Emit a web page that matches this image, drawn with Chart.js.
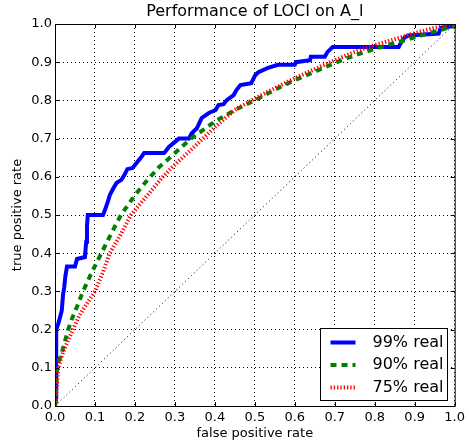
<!DOCTYPE html>
<html><head><meta charset="utf-8">
<script src="https://cdn.jsdelivr.net/npm/chart.js@4"></script>
<style>html,body{margin:0;padding:0;background:#fff}#wrap{width:469px;height:443px}</style>
</head><body><div id="wrap"><canvas id="c" width="469" height="443"></canvas></div>
<script>
const chartTitle = 'Performance of LOCI on A_l';
const xAxisTitle = 'false positive rate';
const yAxisTitle = 'true positive rate';
const seriesLabels = ['99% real', '90% real', '75% real'];

const fpr99 = [0,0.003,0.003,0.008,0.012,0.017,0.02,0.023,0.026,0.03,0.05,0.055,0.075,0.078,0.08,0.082,0.12,0.125,0.132,0.137,0.146,0.154,0.166,0.174,0.181,0.194,0.204,0.216,0.223,0.273,0.285,0.31,0.335,0.342,0.355,0.367,0.385,0.402,0.409,0.422,0.429,0.447,0.454,0.464,0.491,0.501,0.509,0.533,0.558,0.6,0.603,0.638,0.64,0.675,0.682,0.695,0.86,0.865,0.875,0.885,0.96,0.965,1.0];
const tpr99 = [0,0.02,0.2,0.215,0.23,0.25,0.29,0.31,0.34,0.365,0.365,0.385,0.39,0.43,0.47,0.5,0.5,0.513,0.534,0.552,0.57,0.584,0.592,0.605,0.62,0.623,0.636,0.652,0.662,0.662,0.678,0.70,0.70,0.714,0.727,0.754,0.767,0.775,0.788,0.79,0.80,0.814,0.827,0.84,0.845,0.866,0.874,0.885,0.893,0.893,0.90,0.905,0.914,0.914,0.927,0.94,0.94,0.95,0.965,0.97,0.975,0.99,0.995];

const fpr90 = [0,0.003,0.005,0.01,0.017,0.025,0.033,0.043,0.055,0.07,0.092,0.116,0.14,0.165,0.2,0.23,0.26,0.3,0.34,0.37,0.4,0.45,0.5,0.55,0.6,0.65,0.7,0.75,0.8,0.85,0.9,0.95,1.0];
const tpr90 = [0,0.05,0.094,0.12,0.139,0.17,0.2,0.23,0.26,0.3,0.35,0.4,0.45,0.5,0.552,0.59,0.625,0.662,0.7,0.722,0.745,0.775,0.8,0.828,0.853,0.875,0.898,0.918,0.935,0.95,0.965,0.98,0.995];

const fpr75 = [0,0.003,0.005,0.008,0.02,0.03,0.045,0.06,0.075,0.1,0.12,0.137,0.165,0.19,0.23,0.27,0.3,0.35,0.37,0.4,0.45,0.5,0.55,0.6,0.65,0.7,0.75,0.8,0.85,0.9,0.95,1.0];
const tpr75 = [0,0.03,0.06,0.1,0.14,0.165,0.2,0.235,0.26,0.3,0.35,0.4,0.45,0.5,0.55,0.6,0.632,0.68,0.7,0.73,0.775,0.805,0.832,0.858,0.882,0.905,0.927,0.945,0.96,0.976,0.99,1.0];

const diagX = [0, 1];
const diagY = [0, 1];

const axisMin = 0, axisMax = 1, axisStep = 0.1;

const pts = (xs, ys) => xs.map((v, i) => ({x: v, y: ys[i]}));
const FONT = '"DejaVu Sans", sans-serif';

const decor = {
  id: 'decor',
  afterDraw(chart) {
    const {ctx, chartArea: a, scales: {x, y}} = chart;
    ctx.save();
    // frame
    ctx.setLineDash([]);
    ctx.strokeStyle = '#000';
    ctx.lineWidth = 1;
    ctx.strokeRect(a.left + 0.5, a.top + 0.5, a.right - a.left, a.bottom - a.top);
    // inward ticks
    ctx.beginPath();
    x.ticks.forEach(t => {
      const p = Math.round(x.getPixelForValue(t.value)) + 0.5;
      ctx.moveTo(p, a.bottom); ctx.lineTo(p, a.bottom - 4);
      ctx.moveTo(p, a.top); ctx.lineTo(p, a.top + 4);
    });
    y.ticks.forEach(t => {
      const p = Math.round(y.getPixelForValue(t.value)) + 0.5;
      ctx.moveTo(a.left, p); ctx.lineTo(a.left + 4, p);
      ctx.moveTo(a.right, p); ctx.lineTo(a.right - 4, p);
    });
    ctx.stroke();
    // title
    ctx.fillStyle = '#000';
    ctx.font = '16px ' + FONT;
    ctx.textAlign = 'center';
    ctx.textBaseline = 'middle';
    ctx.fillText(chartTitle, (a.left + a.right) / 2, 12);
    // legend
    const w = 127, h = 72;
    const L = Math.round(a.right - 8 - w) + 0.5, T = Math.round(a.bottom - 6 - h) + 0.5;
    ctx.fillStyle = '#fff';
    ctx.fillRect(L, T, w, h);
    ctx.strokeStyle = '#000';
    ctx.lineWidth = 1;
    ctx.strokeRect(L, T, w, h);
    const rows = [14, 36.5, 59];
    chart.data.datasets.slice(0, 3).forEach((ds, i) => {
      const yy = T + rows[i];
      ctx.save();
      ctx.strokeStyle = ds.borderColor;
      ctx.lineWidth = ds.borderWidth;
      ctx.setLineDash(ds.borderDash || []);
      ctx.beginPath();
      ctx.moveTo(L + 10, yy); ctx.lineTo(L + 35, yy);
      ctx.stroke();
      ctx.restore();
      ctx.fillStyle = '#000';
      ctx.font = '16px ' + FONT;
      ctx.textAlign = 'left';
      ctx.textBaseline = 'middle';
      ctx.fillText(ds.label, L + 52, yy);
    });
    ctx.restore();
  }
};

const lineStyle = {pointRadius: 0, tension: 0, fill: false, borderCapStyle: 'butt'};

new Chart(document.getElementById('c'), {
  type: 'line',
  data: {
    datasets: [
      Object.assign({label: seriesLabels[0], data: pts(fpr99, tpr99), borderColor: '#0000ff', borderWidth: 4, borderJoinStyle: 'miter', order: 3}, lineStyle),
      Object.assign({label: seriesLabels[1], data: pts(fpr90, tpr90), borderColor: '#008000', borderWidth: 4, borderDash: [6, 5], order: 2}, lineStyle),
      Object.assign({label: seriesLabels[2], data: pts(fpr75, tpr75), borderColor: '#ff0000', borderWidth: 4, borderDash: [1.3, 2], order: 1}, lineStyle),
      Object.assign({label: 'diagonal', data: pts(diagX, diagY), borderColor: '#000', borderWidth: 1, borderDash: [1, 3], order: 5}, lineStyle)
    ]
  },
  options: {
    responsive: false,
    animation: false,
    events: [],
    layout: {padding: {top: 24, right: 11, left: 0, bottom: 0}},
    plugins: {legend: {display: false}, title: {display: false}, tooltip: {enabled: false}},
    scales: {
      x: {
        type: 'linear', min: axisMin, max: axisMax,
        afterFit(s) { s.height = 37; },
        ticks: {stepSize: axisStep, color: '#000', font: {family: FONT, size: 13}, padding: 4, maxRotation: 0, autoSkip: false,
          callback: v => Number(v).toFixed(1)},
        grid: {color: '#000', lineWidth: 1, drawTicks: false},
        border: {display: false, dash: [1, 3]},
        title: {display: true, text: xAxisTitle, color: '#000', font: {family: FONT, size: 13}, padding: {top: 0, bottom: 2}}
      },
      y: {
        type: 'linear', min: axisMin, max: axisMax,
        afterFit(s) { s.width = 55; },
        ticks: {stepSize: axisStep, color: '#000', font: {family: FONT, size: 13}, padding: 3, autoSkip: false,
          callback: v => Number(v).toFixed(1)},
        grid: {color: '#000', lineWidth: 1, drawTicks: false},
        border: {display: false, dash: [1, 3]},
        title: {display: true, text: yAxisTitle, color: '#000', font: {family: FONT, size: 13}, padding: {top: 10, bottom: 0}}
      }
    }
  },
  plugins: [decor]
});
</script>
</body></html>
